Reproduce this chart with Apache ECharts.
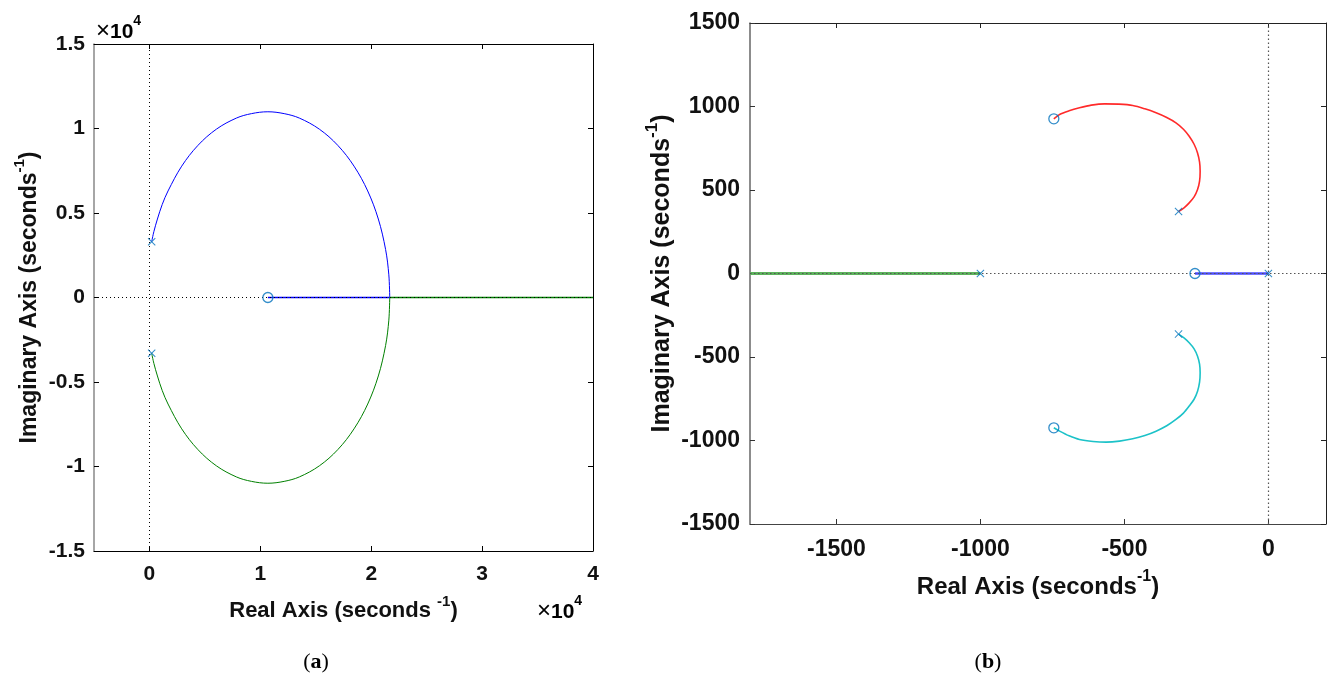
<!DOCTYPE html>
<html><head><meta charset="utf-8">
<script src="https://cdn.jsdelivr.net/npm/echarts@6/dist/echarts.min.js"></script>
<style>html,body{margin:0;padding:0;background:#fff}#c{width:1331px;height:675px}</style>
</head><body><div id="c"></div>
<script>
// ---------- panel (a) ----------
const aXTicks = [0, 10000, 20000, 30000, 40000];
const aPoles = [[200, 3300], [200, -3300]];
const aZeros = [[10680, 0]];
const aUpperArc = [[200,3300],[400,3900],[720,4644],[1150,5500],[1677,6304],[2909,7771],[4376,9003],[6036,9960],[7836,10615],[9200,10880],[10680,10990],[12150,10880],[13524,10615],[15324,9960],[16984,9003],[18451,7771],[19683,6304],[20640,4644],[21295,2844],[21588,1340],[21670,0]];
const aLowerArc = [[200,-3300],[400,-3900],[720,-4644],[1150,-5500],[1677,-6304],[2909,-7771],[4376,-9003],[6036,-9960],[7836,-10615],[9200,-10880],[10680,-10990],[12150,-10880],[13524,-10615],[15324,-9960],[16984,-9003],[18451,-7771],[19683,-6304],[20640,-4644],[21295,-2844],[21588,-1340],[21670,0]];
const aBlueReal = [[10680, 0], [21670, 0]];
const aGreenReal = [[21670, 0], [40000, 0]];
// ---------- panel (b) ----------
const bXTicks = [-1500, -1000, -500, 0];
const bPoles = [[0, 0], [-1000, 0], [-312, 371], [-312, -363]];
const bZeros = [[-255, 0], [-745, 926], [-745, -924]];
const bRedArc = [[-312,371],[-292,395],[-275,423],[-258,459],[-246,503],[-239,553],[-237,613],[-239,667],[-246,722],[-258,774],[-275,822],[-295,864],[-321,902],[-353,934],[-390,962],[-429,986],[-471,1006],[-519,1014],[-569,1016],[-615,1008],[-656,992],[-692,974],[-725,952],[-745,926]];
const bCyanArc = [[-312,-363],[-292,-387],[-275,-415],[-258,-451],[-246,-495],[-239,-543],[-237,-595],[-239,-651],[-246,-705],[-258,-753],[-275,-794],[-295,-836],[-321,-874],[-353,-912],[-390,-944],[-429,-970],[-471,-990],[-517,-1004],[-563,-1010],[-609,-1006],[-656,-994],[-692,-972],[-725,-944],[-745,-924]];
const bBlueReal = [[-255, 0], [0, 0]];
const bGreenReal = [[-1800, 0], [-1000, 0]];

const X_PATH = 'path://M0,0.9L0.9,0L5,4.1L9.1,0L10,0.9L5.9,5L10,9.1L9.1,10L5,5.9L0.9,10L0,9.1L4.1,5Z';
const MK = '#0072BD';
const FF = 'Liberation Sans, Arial, Helvetica, sans-serif';
const SERIF = 'Liberation Serif, DejaVu Serif, serif';

function nameRich(fs) {
  return {
    t: {fontSize: fs, fontWeight: 'bold', fontFamily: FF, color: '#111', lineHeight: fs + 6, verticalAlign: 'bottom'},
    s: {fontSize: Math.round(fs * 0.66), fontWeight: 'bold', fontFamily: FF, color: '#111', lineHeight: Math.round(fs * 0.7), verticalAlign: 'top'}
  };
}
function lab(fs, margin, fmt, custom) {
  const o = {show: true, fontSize: fs, fontWeight: 'bold', fontFamily: FF, color: '#111', margin: margin, formatter: fmt};
  if (custom) o.customValues = custom;
  return o;
}
function tick(custom, color) {
  const o = {show: true, inside: true, length: 5, lineStyle: {color: color, width: 1}};
  if (custom) o.customValues = custom;
  return o;
}
function x10(fs) {
  return {
    x: {fontSize: fs + 3, fontFamily: FF, color: '#111', lineHeight: fs + 8, verticalAlign: 'bottom'},
    n: {fontSize: fs, fontWeight: 'bold', fontFamily: FF, color: '#111', lineHeight: fs + 8, verticalAlign: 'bottom'},
    s: {fontSize: Math.round(fs * 0.68), fontWeight: 'bold', fontFamily: FF, color: '#111', lineHeight: Math.round(fs * 0.7), verticalAlign: 'top'}
  };
}

const option = {
  animation: false,
  backgroundColor: '#fff',
  grid: [
    {left: 94, top: 44, width: 499, height: 507, outerBoundsMode: 'none', containLabel: false},
    {left: 750, top: 23, width: 576, height: 501, outerBoundsMode: 'none', containLabel: false}
  ],
  xAxis: [
    {gridIndex: 0, type: 'value', min: -5000, max: 40000, position: 'bottom',
     axisLine: {show: true, onZero: false, lineStyle: {color: '#000', width: 1}},
     axisTick: tick(aXTicks, '#000'), axisLabel: lab(21, 13, v => String(v / 1e4), aXTicks), splitLine: {show: false},
     name: '{t|Real Axis (seconds }{s|-1}{t|)}', nameLocation: 'middle', nameGap: 43,
     nameTextStyle: {rich: nameRich(22)}},
    {gridIndex: 0, type: 'value', min: -5000, max: 40000, position: 'top',
     axisLine: {show: true, onZero: false, lineStyle: {color: '#000', width: 1}},
     axisTick: tick(aXTicks, '#000'), axisLabel: {show: false}, splitLine: {show: false}},
    {gridIndex: 1, type: 'value', min: -1800, max: 200, position: 'bottom',
     axisLine: {show: true, onZero: false, lineStyle: {color: '#444', width: 1}},
     axisTick: tick(bXTicks, '#333'), axisLabel: lab(23, 14, v => String(v), bXTicks), splitLine: {show: false},
     name: '{t|Real Axis (seconds}{s|-1}{t|)}', nameLocation: 'middle', nameGap: 45,
     nameTextStyle: {rich: nameRich(24)}},
    {gridIndex: 1, type: 'value', min: -1800, max: 200, position: 'top',
     axisLine: {show: true, onZero: false, lineStyle: {color: '#222', width: 1}},
     axisTick: tick(bXTicks, '#222'), axisLabel: {show: false}, splitLine: {show: false}}
  ],
  yAxis: [
    {gridIndex: 0, type: 'value', min: -15000, max: 15000, interval: 5000, position: 'left',
     axisLine: {show: true, onZero: false, lineStyle: {color: '#888', width: 1.5}},
     axisTick: tick(null, '#000'), axisLabel: lab(21, 9, v => String(v / 1e4)), splitLine: {show: false},
     name: '{t|Imaginary Axis (seconds}{s|-1}{t|)}', nameLocation: 'middle', nameGap: 53,
     nameTextStyle: {rich: nameRich(23)}},
    {gridIndex: 0, type: 'value', min: -15000, max: 15000, interval: 5000, position: 'right',
     axisLine: {show: true, onZero: false, lineStyle: {color: '#000', width: 1}},
     axisTick: tick(null, '#000'), axisLabel: {show: false}, splitLine: {show: false}},
    {gridIndex: 1, type: 'value', min: -1500, max: 1500, interval: 500, position: 'left',
     axisLine: {show: true, onZero: false, lineStyle: {color: '#666', width: 1.5}},
     axisTick: tick(null, '#333'), axisLabel: lab(23, 10, v => String(v)), splitLine: {show: false},
     name: '{t|Imaginary Axis (seconds}{s|-1}{t|)}', nameLocation: 'middle', nameGap: 75,
     nameTextStyle: {rich: nameRich(25)}},
    {gridIndex: 1, type: 'value', min: -1500, max: 1500, interval: 500, position: 'right',
     axisLine: {show: true, onZero: false, lineStyle: {color: '#222', width: 1}},
     axisTick: tick(null, '#222'), axisLabel: {show: false}, splitLine: {show: false}}
  ],
  series: [
    // panel (a)
    {type: 'line', xAxisIndex: 0, yAxisIndex: 0, data: [], z: 0,
     markLine: {silent: true, symbol: 'none', label: {show: false}, animation: false,
       lineStyle: {type: [1, 3], color: '#000', width: 1}, data: [{xAxis: 0}, {yAxis: 0}]}},
    {type: 'line', xAxisIndex: 0, yAxisIndex: 0, data: aUpperArc, smooth: 0.35, showSymbol: false, lineStyle: {color: '#0000FF', width: 1}, z: 3},
    {type: 'line', xAxisIndex: 0, yAxisIndex: 0, data: aBlueReal, showSymbol: false, lineStyle: {color: '#0000FF', width: 1.5}, z: 3},
    {type: 'line', xAxisIndex: 0, yAxisIndex: 0, data: aLowerArc, smooth: 0.35, showSymbol: false, lineStyle: {color: '#008000', width: 1}, z: 3},
    {type: 'line', xAxisIndex: 0, yAxisIndex: 0, data: aGreenReal, showSymbol: false, lineStyle: {color: '#008000', width: 1.5}, z: 3},
    {type: 'scatter', xAxisIndex: 0, yAxisIndex: 0, data: aPoles, symbol: X_PATH, symbolSize: 8, itemStyle: {color: MK}, z: 5},
    {type: 'scatter', xAxisIndex: 0, yAxisIndex: 0, data: aZeros, symbol: 'circle', symbolSize: 10,
     itemStyle: {color: 'rgba(0,0,0,0)', borderColor: MK, borderWidth: 1.3}, z: 5},
    // panel (b)
    {type: 'line', xAxisIndex: 2, yAxisIndex: 2, data: [], z: 0,
     markLine: {silent: true, symbol: 'none', label: {show: false}, animation: false,
       lineStyle: {type: [1.5, 2.5], color: '#555', width: 1.2}, data: [{xAxis: 0}, {yAxis: 0}]}},
    {type: 'line', xAxisIndex: 2, yAxisIndex: 2, data: bRedArc, smooth: 0.3, showSymbol: false, lineStyle: {color: '#FF2A2A', width: 1.6}, z: 3},
    {type: 'line', xAxisIndex: 2, yAxisIndex: 2, data: bCyanArc, smooth: 0.3, showSymbol: false, lineStyle: {color: '#1CC2C8', width: 1.6}, z: 3},
    {type: 'line', xAxisIndex: 2, yAxisIndex: 2, data: bBlueReal, showSymbol: false, lineStyle: {color: '#4A4AFF', width: 2.5}, z: 3},
    {type: 'line', xAxisIndex: 2, yAxisIndex: 2, data: bGreenReal, showSymbol: false, lineStyle: {color: '#5DB35D', width: 3}, z: 3},
    {type: 'scatter', xAxisIndex: 2, yAxisIndex: 2, data: bPoles, symbol: X_PATH, symbolSize: 8, itemStyle: {color: MK}, z: 5},
    {type: 'scatter', xAxisIndex: 2, yAxisIndex: 2, data: bZeros, symbol: 'circle', symbolSize: 10,
     itemStyle: {color: 'rgba(0,0,0,0)', borderColor: MK, borderWidth: 1.3}, z: 5}
  ],
  graphic: [
    {type: 'text', left: 96, top: 14, style: {text: '{x|×}{n|10}{s|4}', rich: x10(21)}},
    {type: 'text', left: 537, top: 594, style: {text: '{x|×}{n|10}{s|4}', rich: x10(21)}},
    {type: 'text', x: 316, y: 662, style: {text: '{p|(}{b|a}{p|)}', align: 'center', verticalAlign: 'middle', rich: {
      p: {fontSize: 22, fontFamily: SERIF, color: '#111'},
      b: {fontSize: 22, fontWeight: 'bold', fontFamily: SERIF, color: '#111'}}}},
    {type: 'text', x: 988, y: 662, style: {text: '{p|(}{b|b}{p|)}', align: 'center', verticalAlign: 'middle', rich: {
      p: {fontSize: 22, fontFamily: SERIF, color: '#111'},
      b: {fontSize: 22, fontWeight: 'bold', fontFamily: SERIF, color: '#111'}}}}
  ]
};
const chart = echarts.init(document.getElementById('c'), null, {renderer: 'canvas'});
chart.setOption(option);
</script>
</body></html>
